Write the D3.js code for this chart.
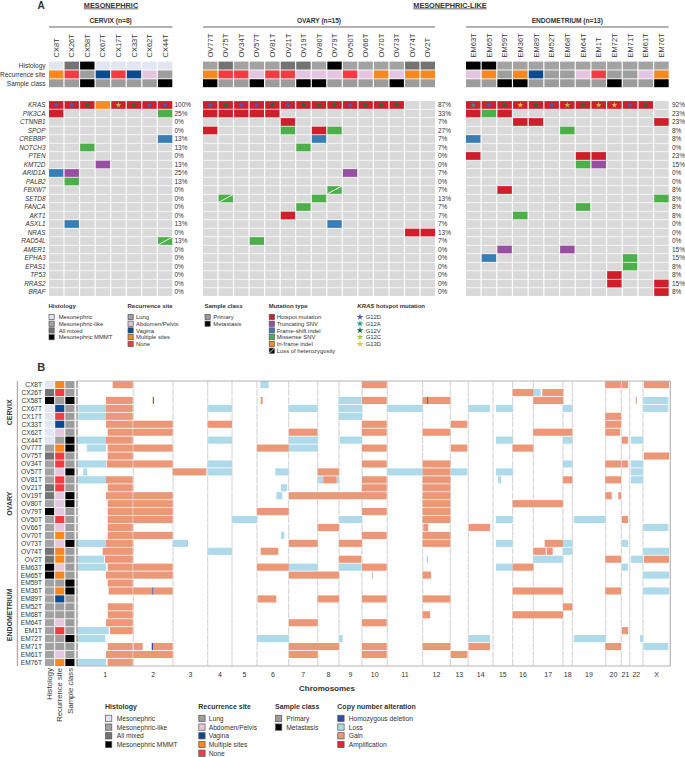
<!DOCTYPE html>
<html>
<head>
<meta charset="utf-8">
<script src="https://cdn.jsdelivr.net/npm/d3@7"></script>
<style>
html, body { margin: 0; padding: 0; background: #fff; }
svg { display: block; }
text { font-family: "Liberation Sans", Arial, sans-serif; fill: #333; }
</style>
</head>
<body>
<div id="chart"></div>
<script>
// panel A
var genes = ["KRAS","PIK3CA","CTNNB1","SPOP","CREBBP","NOTCH3","PTEN","KMT2D","ARID1A","PALB2","FBXW7","SETD8","FANCA","AKT1","ASXL1","NRAS","RAD54L","AMER1","EPHA3","EPAS1","TP53","RRAS2","BRAF"];

var cervixSamples = ["CX8T","CX26T","CX58T","CX67T","CX17T","CX33T","CX62T","CX44T"];
var ovarySamples = ["OV77T","OV75T","OV34T","OV57T","OV81T","OV21T","OV19T","OV80T","OV79T","OV50T","OV66T","OV70T","OV73T","OV74T","OV2T"];
var endoSamples = ["EM63T","EM65T","EM59T","EM36T","EM89T","EM52T","EM68T","EM64T","EM1T","EM72T","EM71T","EM61T","EM76T"];

var cervixHistology = ["Mesonephric","All mixed","Mesonephric MMMT","Mesonephric","Mesonephric","Mesonephric","Mesonephric","Mesonephric"];
var ovaryHistology = ["Mesonephric-like","All mixed","Mesonephric-like","Mesonephric-like","Mesonephric-like","All mixed","All mixed","Mesonephric-like","Mesonephric MMMT","Mesonephric-like","Mesonephric-like","Mesonephric-like","Mesonephric-like","All mixed","All mixed"];
var endoHistology = ["Mesonephric MMMT","Mesonephric MMMT","Mesonephric-like","Mesonephric-like","Mesonephric-like","Mesonephric-like","Mesonephric-like","Mesonephric-like","Mesonephric-like","Mesonephric-like","Mesonephric-like","Mesonephric-like","Mesonephric-like"];

var cervixSite = ["Multiple sites","None","Lung","Vagina","None","Vagina","Abdomen/Pelvis","Lung"];
var ovarySite = ["Multiple sites","None","None","Abdomen/Pelvis","None","None","Abdomen/Pelvis","Abdomen/Pelvis","Abdomen/Pelvis","None","Abdomen/Pelvis","Multiple sites","Abdomen/Pelvis","Multiple sites","Multiple sites"];
var endoSite = ["Abdomen/Pelvis","Multiple sites","Lung","Multiple sites","Vagina","Lung","Lung","Abdomen/Pelvis","None","Lung","Lung","Abdomen/Pelvis","Multiple sites"];

var cervixClass = ["Primary","Primary","Metastasis","Primary","Primary","Primary","Primary","Metastasis"];
var ovaryClass = ["Metastasis","Primary","Primary","Metastasis","Primary","Primary","Metastasis","Metastasis","Primary","Primary","Primary","Primary","Metastasis","Primary","Primary"];
var endoClass = ["Primary","Primary","Metastasis","Metastasis","Primary","Primary","Primary","Primary","Primary","Metastasis","Primary","Primary","Metastasis"];

var cervixPct = [100,25,0,0,13,13,0,13,25,13,0,0,0,0,13,0,13,0,0,0,0,0,0];
var ovaryPct = [87,33,7,27,7,7,0,0,7,0,7,13,7,7,7,13,7,0,0,0,0,0,0];
var endoPct = [92,23,23,8,8,0,23,15,0,0,8,8,8,8,0,0,0,15,15,8,8,15,8];

// [sample, gene, type, loh]
var mutations = [
  ["CX8T","KRAS","Hotspot mutation"],["CX26T","KRAS","Hotspot mutation"],["CX58T","KRAS","Hotspot mutation"],["CX67T","KRAS","In-frame indel"],
  ["CX17T","KRAS","Hotspot mutation"],["CX33T","KRAS","Hotspot mutation"],["CX62T","KRAS","Hotspot mutation"],["CX44T","KRAS","Hotspot mutation"],
  ["CX8T","PIK3CA","Hotspot mutation"],["CX44T","PIK3CA","Missense SNV"],["CX44T","CREBBP","Frame-shift indel"],["CX58T","NOTCH3","Missense SNV"],
  ["CX67T","KMT2D","Truncating SNV"],["CX8T","ARID1A","Frame-shift indel"],["CX26T","ARID1A","Truncating SNV"],["CX26T","PALB2","Missense SNV"],
  ["CX26T","ASXL1","Frame-shift indel"],["CX44T","RAD54L","Missense SNV",1],

  ["OV77T","KRAS","Hotspot mutation"],["OV75T","KRAS","Hotspot mutation"],["OV34T","KRAS","Hotspot mutation"],["OV57T","KRAS","Hotspot mutation"],
  ["OV81T","KRAS","Hotspot mutation"],["OV21T","KRAS","Hotspot mutation"],["OV19T","KRAS","Hotspot mutation"],["OV80T","KRAS","Hotspot mutation"],
  ["OV79T","KRAS","Hotspot mutation"],["OV50T","KRAS","Hotspot mutation"],["OV66T","KRAS","Hotspot mutation"],["OV70T","KRAS","Hotspot mutation"],
  ["OV73T","KRAS","Hotspot mutation"],
  ["OV77T","PIK3CA","Hotspot mutation"],["OV75T","PIK3CA","Hotspot mutation"],["OV34T","PIK3CA","Hotspot mutation"],["OV57T","PIK3CA","Hotspot mutation"],
  ["OV81T","PIK3CA","Hotspot mutation"],["OV21T","CTNNB1","Hotspot mutation"],["OV77T","SPOP","Hotspot mutation"],["OV21T","SPOP","Missense SNV"],
  ["OV80T","SPOP","Hotspot mutation"],["OV79T","SPOP","Missense SNV"],["OV80T","CREBBP","Frame-shift indel"],["OV19T","NOTCH3","Missense SNV"],
  ["OV50T","ARID1A","Truncating SNV"],["OV79T","FBXW7","Missense SNV",1],["OV75T","SETD8","Missense SNV",1],["OV80T","SETD8","Missense SNV"],
  ["OV19T","FANCA","Missense SNV"],["OV21T","AKT1","Hotspot mutation"],["OV79T","ASXL1","Frame-shift indel"],["OV74T","NRAS","Hotspot mutation"],
  ["OV2T","NRAS","Hotspot mutation"],["OV57T","RAD54L","Missense SNV"],

  ["EM63T","KRAS","Hotspot mutation"],["EM65T","KRAS","Hotspot mutation"],["EM59T","KRAS","Hotspot mutation"],["EM36T","KRAS","Hotspot mutation"],
  ["EM89T","KRAS","Hotspot mutation"],["EM52T","KRAS","Hotspot mutation"],["EM68T","KRAS","Hotspot mutation"],["EM64T","KRAS","Hotspot mutation"],
  ["EM1T","KRAS","Hotspot mutation"],["EM72T","KRAS","Hotspot mutation"],["EM71T","KRAS","Hotspot mutation"],["EM61T","KRAS","Hotspot mutation"],
  ["EM63T","PIK3CA","Hotspot mutation"],["EM65T","PIK3CA","Missense SNV"],["EM59T","PIK3CA","Hotspot mutation"],["EM36T","CTNNB1","Hotspot mutation"],
  ["EM89T","CTNNB1","Hotspot mutation"],["EM76T","CTNNB1","Hotspot mutation"],["EM68T","SPOP","Missense SNV"],["EM63T","CREBBP","Frame-shift indel"],
  ["EM63T","PTEN","Hotspot mutation"],["EM64T","PTEN","Hotspot mutation"],["EM1T","PTEN","Hotspot mutation"],["EM64T","KMT2D","Missense SNV"],
  ["EM1T","KMT2D","Truncating SNV"],["EM59T","FBXW7","Hotspot mutation"],["EM76T","SETD8","Missense SNV"],["EM64T","FANCA","Missense SNV"],
  ["EM36T","AKT1","Missense SNV"],["EM59T","AMER1","Truncating SNV"],["EM68T","AMER1","Truncating SNV"],["EM65T","EPHA3","Frame-shift indel"],
  ["EM71T","EPHA3","Missense SNV"],["EM71T","EPAS1","Missense SNV"],["EM72T","TP53","Hotspot mutation"],["EM72T","RRAS2","Hotspot mutation"],
  ["EM76T","RRAS2","Hotspot mutation"],["EM76T","BRAF","Hotspot mutation"]
];

var krasHotspots = [
  ["CX8T","G12D"],["CX26T","G12D"],["CX58T","G12V"],["CX17T","G12C"],["CX33T","G12V"],["CX62T","G12D"],["CX44T","G12D"],
  ["OV77T","G12D"],["OV75T","G12V"],["OV34T","G12D"],["OV57T","G12D"],["OV81T","G12V"],["OV21T","G12D"],["OV19T","G12V"],["OV80T","G12V"],
  ["OV79T","G12V"],["OV50T","G12D"],["OV66T","G12V"],["OV70T","G12V"],["OV73T","G12V"],
  ["EM63T","G12A"],["EM65T","G12D"],["EM59T","G12V"],["EM36T","G13D"],["EM89T","G12V"],["EM52T","G12D"],["EM68T","G12C"],["EM64T","G12V"],
  ["EM1T","G12C"],["EM72T","G13D"],["EM71T","G12D"],["EM61T","G12V"]
];

// panel B
var chromNames = ["1","2","3","4","5","6","7","8","9","10","11","12","13","14","15","16","17","18","19","20","21","22","X"];
// cumulative end of each chromosome along the panel's bin axis
var chromEnds = [56.3,96,130.7,155,180,211.7,240.7,262,285,310.3,345.7,373.3,391.3,416,435.7,456.3,486,495.3,528.7,544.3,552.7,566,593.3];

// [sample, start, end, alteration]
var cnSegments = [
  ["CX8T",35.7,55.7,"Gain"],["CX8T",183.3,191.7,"Loss"],["CX8T",285,309.7,"Gain"],["CX8T",528.3,544,"Gain"],["CX8T",545,551,"Gain"],["CX8T",567,592,"Gain"],
  ["CX26T",435.7,456.3,"Gain"],["CX26T",456.3,463.7,"Loss"],["CX26T",465.3,486.3,"Gain"],
  ["CX58T",29,55.7,"Gain"],["CX58T",75.8,76.9,"Amplification"],["CX58T",183.7,185.7,"Gain"],["CX58T",261.7,284.3,"Loss"],["CX58T",285,309.7,"Gain"],["CX58T",345.7,373.3,"Gain"],["CX58T",350,350.8,"Amplification"],["CX58T",456.3,486.3,"Gain"],["CX58T",558.7,559.7,"Gain"],["CX58T",566.3,591.3,"Loss"],
  ["CX67T",1.3,29,"Loss"],["CX67T",29,55.7,"Gain"],["CX67T",130.7,155,"Loss"],["CX67T",211.7,240.7,"Loss"],["CX67T",261.7,285,"Loss"],["CX67T",310.3,345.7,"Loss"],["CX67T",391.7,413,"Loss"],["CX67T",419,435.7,"Loss"],["CX67T",486,495.3,"Loss"],["CX67T",566.3,591.3,"Loss"],
  ["CX17T",1.3,29,"Loss"],["CX17T",29,55.7,"Gain"],["CX17T",261.7,285,"Loss"],["CX17T",528.3,544,"Gain"],
  ["CX33T",29,55.7,"Gain"],["CX33T",56.3,95.7,"Gain"],["CX33T",130.7,155,"Gain"],["CX33T",285,309.7,"Gain"],["CX33T",374,390.3,"Gain"],["CX33T",528.3,544,"Gain"],
  ["CX62T",30.7,55.7,"Gain"],["CX62T",56.3,95.7,"Gain"],["CX62T",212,240.3,"Gain"],["CX62T",285,309.7,"Gain"],["CX62T",345.7,373.3,"Gain"],["CX62T",456.3,495.3,"Gain"],["CX62T",528.3,543,"Gain"],
  ["CX44T",0.7,29,"Loss"],["CX44T",29,55.7,"Gain"],["CX44T",130.7,155,"Loss"],["CX44T",212,240.7,"Loss"],["CX44T",263,285,"Loss"],["CX44T",419,435.7,"Loss"],["CX44T",486,495.3,"Loss"],["CX44T",545,551,"Gain"],["CX44T",554,566,"Loss"],
  ["OV77T",9.7,29,"Loss"],["OV77T",30.7,55.7,"Gain"],["OV77T",56.3,95.7,"Gain"],["OV77T",180,211.7,"Gain"],["OV77T",212,240.7,"Loss"],["OV77T",285,309.7,"Gain"],["OV77T",374,390.3,"Gain"],["OV77T",435.7,456.3,"Gain"],
  ["OV75T",30.7,55.7,"Gain"],["OV75T",567,592,"Gain"],
  ["OV34T",0.7,29,"Loss"],["OV34T",29.7,55.7,"Gain"],["OV34T",56.3,95.7,"Gain"],["OV34T",130.7,155,"Loss"],["OV34T",285,309.7,"Gain"],["OV34T",345.7,373.3,"Gain"],["OV34T",486,495.3,"Loss"],["OV34T",528.3,544,"Gain"],["OV34T",545,551,"Gain"],["OV34T",554,566,"Loss"],
  ["OV57T",6.3,10.3,"Loss"],["OV57T",95.7,129.3,"Gain"],["OV57T",130.7,155,"Loss"],["OV57T",198.3,212,"Loss"],["OV57T",240.7,262,"Gain"],["OV57T",310.3,345.7,"Loss"],["OV57T",345.7,373.3,"Gain"],["OV57T",374,390.3,"Loss"],["OV57T",419,435.7,"Loss"],["OV57T",554,565.7,"Loss"],
  ["OV81T",0.7,29,"Loss"],["OV81T",29,55.7,"Gain"],["OV81T",240.7,246.3,"Loss"],["OV81T",246.3,259.7,"Gain"],["OV81T",259.7,262,"Loss"],["OV81T",285,309.7,"Gain"],["OV81T",345.7,373.3,"Gain"],["OV81T",421,424.3,"Loss"],["OV81T",486,495.3,"Gain"],["OV81T",528.3,544,"Gain"],["OV81T",554,566,"Loss"],
  ["OV21T",30.7,55.7,"Gain"],["OV21T",204,210,"Loss"],["OV21T",285,309.7,"Gain"],["OV21T",345.7,373.3,"Gain"],
  ["OV19T",29,55.7,"Gain"],["OV19T",56.3,95.7,"Gain"],["OV19T",199.3,205.3,"Loss"],["OV19T",212,262,"Gain"],["OV19T",262,285,"Gain"],["OV19T",285,309.7,"Gain"],["OV19T",345.7,373.3,"Gain"],["OV19T",528.3,534.7,"Gain"],["OV19T",541.3,544,"Gain"],
  ["OV80T",30.7,55.7,"Gain"],["OV80T",56.3,95.7,"Gain"],["OV80T",345.7,373.3,"Gain"],["OV80T",435.7,486,"Gain"],
  ["OV79T",30.7,55.7,"Gain"],["OV79T",56.3,95.7,"Gain"],["OV79T",180,211.7,"Gain"],["OV79T",285,309.7,"Gain"],["OV79T",345.7,373.3,"Gain"],
  ["OV50T",30.7,55.7,"Gain"],["OV50T",56.3,95.7,"Gain"],["OV50T",155,180,"Loss"],["OV50T",262,285,"Loss"],["OV50T",345.7,373.3,"Gain"],["OV50T",419,435.7,"Loss"],["OV50T",496.7,528.7,"Loss"],["OV50T",545,551,"Gain"],
  ["OV66T",30.7,55.7,"Gain"],["OV66T",240.7,262,"Gain"],["OV66T",346.3,351.3,"Gain"],["OV66T",391.7,413,"Gain"],["OV66T",566.3,591.3,"Loss"],
  ["OV70T",30.7,55.7,"Gain"],["OV70T",56.3,95.7,"Gain"],["OV70T",204,207.3,"Loss"],["OV70T",285,309.7,"Gain"],["OV70T",345.7,373.3,"Gain"],
  ["OV73T",0.7,29,"Loss"],["OV73T",29,55.7,"Gain"],["OV73T",95.7,111,"Loss"],["OV73T",212,240.7,"Gain"],["OV73T",262,285,"Gain"],["OV73T",345.7,373.3,"Gain"],["OV73T",419,435.7,"Loss"],["OV73T",467.7,486,"Gain"],["OV73T",486,495.3,"Loss"],["OV73T",545,551,"Loss"],
  ["OV74T",25.7,55.7,"Gain"],["OV74T",130.7,155,"Loss"],["OV74T",183.7,201.3,"Gain"],["OV74T",456.3,468.7,"Gain"],["OV74T",469.7,475.7,"Gain"],["OV74T",486,495.3,"Loss"],["OV74T",566.3,592,"Loss"],
  ["OV2T",0.7,27.3,"Loss"],["OV2T",28,55.7,"Gain"],["OV2T",262,284.3,"Gain"],["OV2T",349.7,351,"Loss"],["OV2T",456.3,486,"Loss"],["OV2T",528.3,544,"Gain"],["OV2T",554,566,"Loss"],["OV2T",567,592,"Gain"],
  ["EM63T",0.7,29,"Loss"],["EM63T",30.7,55.7,"Gain"],["EM63T",56.3,95.7,"Gain"],["EM63T",180,211.7,"Gain"],["EM63T",212,240.7,"Loss"],["EM63T",262,284.3,"Loss"],["EM63T",285,309.7,"Gain"],["EM63T",419,435.7,"Loss"],["EM63T",435.7,456.3,"Gain"],["EM63T",545,551,"Loss"],
  ["EM65T",29,55.7,"Gain"],["EM65T",56.3,95.7,"Gain"],["EM65T",212,262,"Gain"],["EM65T",295,295.7,"Gain"],["EM65T",345.7,354,"Gain"],["EM65T",566.3,592,"Loss"],
  ["EM59T",30.7,55.7,"Gain"],
  ["EM36T",31.7,55.7,"Gain"],["EM36T",56.3,75.3,"Gain"],["EM36T",75.3,76.3,"Homozygous deletion"],["EM36T",76.3,95.7,"Gain"],["EM36T",435.7,486,"Gain"],["EM36T",528.3,544,"Gain"],["EM36T",566.3,592,"Loss"],
  ["EM89T",180.7,199.3,"Gain"],["EM89T",240.7,262,"Gain"],["EM89T",285,309.7,"Gain"],["EM89T",345.7,373.3,"Gain"],
  ["EM52T",30.7,55.7,"Gain"],["EM52T",486,495.3,"Gain"],
  ["EM68T",30.7,55.7,"Gain"],["EM68T",345.7,353,"Gain"],["EM68T",435.7,486,"Gain"],
  ["EM64T",29,55.7,"Gain"],["EM64T",212,240.7,"Gain"],["EM64T",285,309.7,"Gain"],
  ["EM1T",0.7,31.7,"Loss"],["EM1T",33,55.7,"Gain"],["EM1T",545,551,"Gain"],
  ["EM72T",0.7,28.3,"Loss"],["EM72T",180,211.7,"Loss"],["EM72T",262,265.7,"Loss"],["EM72T",391.7,413,"Loss"],["EM72T",496.7,528.7,"Loss"],["EM72T",563,566.3,"Loss"],
  ["EM71T",30.7,55.7,"Gain"],["EM71T",57,65.7,"Gain"],["EM71T",74.7,76,"Homozygous deletion"],["EM71T",76,95.7,"Gain"],["EM71T",212,262,"Gain"],["EM71T",285,309.7,"Gain"],["EM71T",345.7,373.3,"Gain"],["EM71T",391.7,413,"Gain"],["EM71T",528.3,544,"Gain"],["EM71T",566.3,591.3,"Loss"],
  ["EM61T",29,55.7,"Gain"],["EM61T",56.3,95.7,"Gain"],["EM61T",212,240.7,"Gain"],["EM61T",285,309.7,"Gain"],["EM61T",374,390.3,"Gain"],
  ["EM76T",0.7,29,"Loss"],["EM76T",30.7,55.7,"Gain"]
];

// legends
var histologyNames = ["Mesonephric","Mesonephric-like","All mixed","Mesonephric MMMT"];
var siteNames = ["Lung","Abdomen/Pelvis","Vagina","Multiple sites","None"];
var classNames = ["Primary","Metastasis"];
var mutationNames = ["Hotspot mutation","Truncating SNV","Frame-shift indel","Missense SNV","In-frame indel"];
var hotspotNames = ["G12D","G12A","G12V","G12C","G13D"];
var cnaNames = ["Homozygous deletion","Loss","Gain","Amplification"];

var histologyColor = d3.scaleOrdinal(histologyNames, ["#e2e6f3","#a2a2a2","#737373","#000000"]);
var siteColor = d3.scaleOrdinal(siteNames, ["#9e9e9e","#e5c6e0","#0c4a8f","#f8871e","#f43b42"]);
var classColor = d3.scaleOrdinal(classNames, ["#9c9c9c","#000000"]);
var mutationColor = d3.scaleOrdinal(mutationNames, ["#cf1f2b","#984ea3","#377eb8","#4daf4a","#f98a24"]);
var hotspotColor = d3.scaleOrdinal(hotspotNames, ["#4a5bb0","#2a9a9a","#1d6b3f","#a5cb3c","#f5b942"]);
var cnaColor = d3.scaleOrdinal(cnaNames, ["#3050a8","#afdaea","#ec9878","#e8202a"]);

var width = 685, height = 757;
var svg = d3.select("#chart").append("svg").attr("width", width).attr("height", height);

function label(x, y, str, size, opts) {
    opts = opts || {};
    var t = svg.append("text")
        .attr("x", x).attr("y", y)
        .attr("font-size", size)
        .attr("text-anchor", opts.anchor || "start")
        .attr("font-weight", opts.bold ? "bold" : "normal")
        .attr("font-style", opts.italic ? "italic" : "normal")
        .text(str);
    if (opts.rotate)
        t.attr("transform", "rotate(-90 " + x + " " + y + ")");
    if (opts.underline)
        t.attr("text-decoration", "underline");
    return t;
}

// ---- panel A ----
label(37.5, 9, "A", 10, {bold: true});
label(111, 7.5, "MESONEPHRIC", 7.3, {bold: true, anchor: "middle", underline: true});
label(450, 7.5, "MESONEPHRIC-LIKE", 7.3, {bold: true, anchor: "middle", underline: true});

var geneY = d3.scaleBand().domain(genes).range([101.1, 295.9]).paddingInner(0.09);
var trackY = d3.scaleBand().domain(["Histology","Recurrence site","Sample class"]).range([61.6, 87.2]).paddingInner(0.1);

var mutByCell = d3.rollup(mutations, function(v) { return v[0]; }, function(d) { return d[0] + "|" + d[1]; });
var hotspotBySample = new Map(krasHotspots);

function drawCohort(title, samples, histology, site, cls, pct, x0, x1, pctX) {
    var x = d3.scaleBand().domain(samples).range([x0, x1]).paddingInner(0.075);

    label((x0 + x1) / 2, 23, title, 6.6, {bold: true, anchor: "middle"});
    svg.append("line").attr("x1", x0).attr("x2", x1).attr("y1", 27).attr("y2", 27)
        .attr("stroke", "#666").attr("stroke-width", 1);

    samples.forEach(function(s) {
        label(x(s) + x.bandwidth() / 2 + 2.6, 57.5, s, 7.5, {rotate: true});
    });

    var tracks = [["Histology", histology, histologyColor], ["Recurrence site", site, siteColor], ["Sample class", cls, classColor]];
    tracks.forEach(function(tr) {
        svg.append("g").selectAll("rect").data(samples).join("rect")
            .attr("x", function(s) { return x(s); })
            .attr("y", trackY(tr[0]))
            .attr("width", x.bandwidth())
            .attr("height", trackY.bandwidth())
            .attr("fill", function(s, i) { return tr[2](tr[1][i]); });
    });

    var cells = [];
    genes.forEach(function(g) {
        samples.forEach(function(s) { cells.push({gene: g, sample: s, mut: mutByCell.get(s + "|" + g)}); });
    });
    svg.append("g").selectAll("rect").data(cells).join("rect")
        .attr("x", function(d) { return x(d.sample); })
        .attr("y", function(d) { return geneY(d.gene); })
        .attr("width", x.bandwidth())
        .attr("height", geneY.bandwidth())
        .attr("fill", function(d) { return d.mut ? mutationColor(d.mut[2]) : "#d9d9d9"; });

    // loss of heterozygosity slash
    svg.append("g").selectAll("line").data(cells.filter(function(d) { return d.mut && d.mut[3]; })).join("line")
        .attr("x1", function(d) { return x(d.sample); })
        .attr("x2", function(d) { return x(d.sample) + x.bandwidth(); })
        .attr("y1", function(d) { return geneY(d.gene) + geneY.bandwidth(); })
        .attr("y2", function(d) { return geneY(d.gene); })
        .attr("stroke", "#fff").attr("stroke-width", 0.9);

    // KRAS stars
    svg.append("g").selectAll("path").data(samples.filter(function(s) { return hotspotBySample.has(s); })).join("path")
        .attr("d", d3.symbol(d3.symbolStar, 11))
        .attr("transform", function(s) { return "translate(" + (x(s) + x.bandwidth() / 2) + "," + (geneY("KRAS") + geneY.bandwidth() / 2) + ")"; })
        .attr("fill", function(s) { return hotspotColor(hotspotBySample.get(s)); });

    genes.forEach(function(g, i) {
        label(pctX, geneY(g) + geneY.bandwidth() / 2 + 2.3, pct[i] + "%", 6.5);
    });
}

drawCohort("CERVIX (n=8)", cervixSamples, cervixHistology, cervixSite, cervixClass, cervixPct, 49, 172.3, 174.5);
drawCohort("OVARY (n=15)", ovarySamples, ovaryHistology, ovarySite, ovaryClass, ovaryPct, 203, 435, 438);
drawCohort("ENDOMETRIUM (n=13)", endoSamples, endoHistology, endoSite, endoClass, endoPct, 466, 668.7, 672);

genes.forEach(function(g) {
    label(45.5, geneY(g) + geneY.bandwidth() / 2 + 2.3, g, 6.4, {anchor: "end", italic: true});
});
trackY.domain().forEach(function(t) {
    label(45.5, trackY(t) + trackY.bandwidth() / 2 + 2.3, t, 6.5, {anchor: "end"});
});

function legend(x, textX, titleY, rowYs, title, names, color, size, titleSize, textSize) {
    if (title) label(x, titleY, title, titleSize, {bold: true});
    names.forEach(function(n, i) {
        svg.append("rect").attr("x", x + 0.5).attr("y", rowYs[i] - size / 2).attr("width", size).attr("height", size)
            .attr("fill", color(n)).attr("stroke", "#555").attr("stroke-width", 0.7);
        label(textX, rowYs[i] + textSize * 0.36, n, textSize);
    });
}

var legendRowsA = [317, 323.7, 330.4, 337.2, 344, 350.7];
legend(48.5, 58.7, 307.5, legendRowsA, "Histology", histologyNames, histologyColor, 5.2, 6, 5.9);
legend(127.5, 136, 307.5, legendRowsA, "Recurrence site", siteNames, siteColor, 5.2, 6, 5.9);
legend(204.5, 213.3, 307.5, legendRowsA, "Sample class", classNames, classColor, 5.2, 6, 5.9);
legend(268.7, 276.7, 307.5, legendRowsA, "Mutation type", mutationNames, mutationColor, 5.2, 6, 5.9);

// loss of heterozygosity key
svg.append("rect").attr("x", 269.2).attr("y", legendRowsA[5] - 2.6).attr("width", 5.2).attr("height", 5.2)
    .attr("fill", "#000").attr("stroke", "#555").attr("stroke-width", 0.7);
svg.append("line").attr("x1", 269.2).attr("x2", 274.4).attr("y1", legendRowsA[5] + 2.6).attr("y2", legendRowsA[5] - 2.6)
    .attr("stroke", "#fff").attr("stroke-width", 0.9);
label(276.7, legendRowsA[5] + 2.1, "Loss of heterozygosity", 5.9);

var krasTitle = label(357.3, 307.5, "KRAS", 6, {bold: true, italic: true});
krasTitle.append("tspan").attr("font-style", "normal").text(" hotspot mutation");
hotspotNames.forEach(function(n, i) {
    svg.append("path").attr("d", d3.symbol(d3.symbolStar, 14))
        .attr("transform", "translate(360," + legendRowsA[i] + ")")
        .attr("fill", hotspotColor(n));
    label(365.7, legendRowsA[i] + 2.1, n, 5.9);
});

// ---- panel B ----
label(37.3, 371, "B", 11, {bold: true});

var allSamples = cervixSamples.concat(ovarySamples, endoSamples);
var allHistology = cervixHistology.concat(ovaryHistology, endoHistology);
var allSite = cervixSite.concat(ovarySite, endoSite);
var allClass = cervixClass.concat(ovaryClass, endoClass);

var rowY = d3.scaleBand().domain(allSamples).range([381, 666]).paddingInner(0.1);
var binX = d3.scaleLinear().domain([0, 593.3]).range([77, 670.3]);

allSamples.forEach(function(s) {
    label(42, rowY(s) + rowY.bandwidth() / 2 + 2.4, s, 6.6, {anchor: "end"});
});

var trackX = d3.scaleBand().domain(["Histology","Recurrence site","Sample class"]).range([45, 74.5]).paddingInner(0.1);
[["Histology", allHistology, histologyColor], ["Recurrence site", allSite, siteColor], ["Sample class", allClass, classColor]].forEach(function(tr) {
    svg.append("g").selectAll("rect").data(allSamples).join("rect")
        .attr("x", trackX(tr[0]))
        .attr("y", function(s) { return rowY(s); })
        .attr("width", trackX.bandwidth())
        .attr("height", rowY.bandwidth())
        .attr("fill", function(s, i) { return tr[2](tr[1][i]); });
    label(trackX(tr[0]) + trackX.bandwidth() / 2 + 2.7, 668, tr[0], 7.7, {anchor: "end", rotate: true});
});

// group brackets
[[cervixSamples, "CERVIX"], [ovarySamples, "OVARY"], [endoSamples, "ENDOMETRIUM"]].forEach(function(g) {
    var first = g[0][0], last = g[0][g[0].length - 1];
    var y0 = rowY(first), y1 = rowY(last) + rowY.bandwidth();
    svg.append("line").attr("x1", 17.3).attr("x2", 17.3).attr("y1", y0).attr("y2", y1)
        .attr("stroke", "#999").attr("stroke-width", 1);
    label(12.5, (y0 + y1) / 2, g[1], 7, {bold: true, anchor: "middle", rotate: true});
});

// chromosome separators
svg.append("g").selectAll("line").data(chromEnds).join("line")
    .attr("x1", function(d) { return binX(d); })
    .attr("x2", function(d) { return binX(d); })
    .attr("y1", rowY.range()[0])
    .attr("y2", rowY.range()[1])
    .attr("stroke", "#d4d4d4")
    .attr("stroke-width", 1.1)
    .attr("stroke-dasharray", rowY.bandwidth() + " " + (rowY.step() - rowY.bandwidth()));

// copy number segments, thin amplifications and deletions last so they stay on top
var order = {"Loss": 0, "Gain": 1, "Amplification": 2, "Homozygous deletion": 2};
var sortedSegments = cnSegments.slice().sort(function(a, b) { return order[a[3]] - order[b[3]]; });
svg.append("g").selectAll("rect").data(sortedSegments).join("rect")
    .attr("x", function(d) { return binX(d[1]); })
    .attr("y", function(d) { return rowY(d[0]); })
    .attr("width", function(d) { return binX(d[2]) - binX(d[1]); })
    .attr("height", rowY.bandwidth())
    .attr("fill", function(d) { return cnaColor(d[3]); });

// frame
svg.append("path")
    .attr("d", "M" + binX(0) + "," + rowY.range()[0] + "H" + binX(593.3) + "V" + rowY.range()[1] + "H" + binX(0))
    .attr("fill", "none").attr("stroke", "#b4b4b4").attr("stroke-width", 1);
svg.append("line").attr("x1", binX(0)).attr("x2", binX(0)).attr("y1", rowY.range()[0]).attr("y2", rowY.range()[1])
    .attr("stroke", "#666").attr("stroke-width", 1)
    .attr("stroke-dasharray", rowY.bandwidth() + " " + (rowY.step() - rowY.bandwidth()));

var prevEnd = 0;
chromNames.forEach(function(c, i) {
    label(binX((prevEnd + chromEnds[i]) / 2), 676.5, c, 7, {anchor: "middle"});
    prevEnd = chromEnds[i];
});
label(327, 691, "Chromosomes", 8, {bold: true, anchor: "middle"});

var legendRowsB = [718.4, 727.1, 735.8, 744.5, 753.2];
legend(105, 116.7, 709, legendRowsB, "Histology", histologyNames, histologyColor, 6.3, 7, 6.7);
legend(198.3, 208.7, 709, legendRowsB, "Recurrence site", siteNames, siteColor, 6.3, 7, 6.7);
legend(275, 286.3, 709, legendRowsB, "Sample class", classNames, classColor, 6.3, 7, 6.7);
legend(337.3, 348.7, 709, legendRowsB, "Copy number alteration", cnaNames, cnaColor, 6.3, 7, 6.7);
</script>
</body>
</html>
